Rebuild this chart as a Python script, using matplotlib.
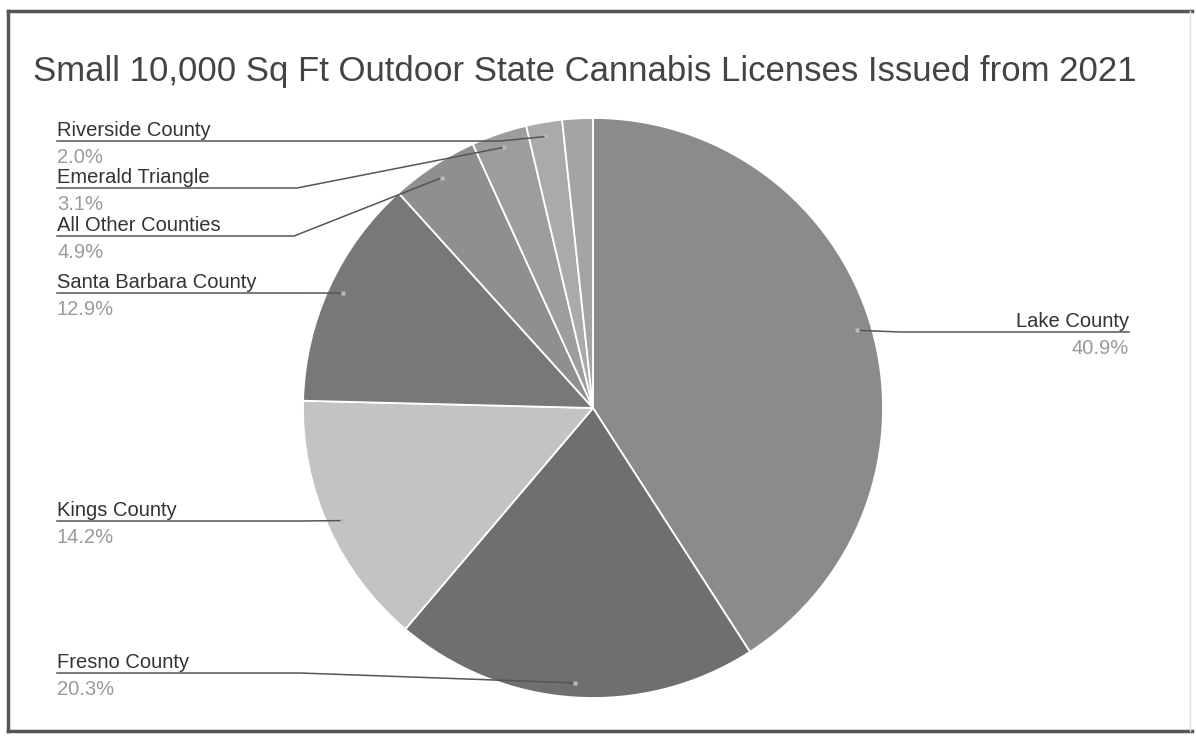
import numpy as np
import matplotlib
matplotlib.use("Agg")
import matplotlib.pyplot as plt

plt.rcParams['font.family'] = ['Liberation Sans', 'DejaVu Sans']

title = 'Small 10,000 Sq Ft Outdoor State Cannabis Licenses Issued from 2021'
labels = ['Lake County', 'Fresno County', 'Kings County', 'Santa Barbara County',
          'All Other Counties', 'Emerald Triangle', 'Riverside County', '']
values = [40.9, 20.3, 14.2, 12.9, 4.9, 3.1, 2.0, 1.7]
colors = ['#8b8b8b', '#6f6f6f', '#c3c3c3', '#787878',
          '#8f8f8f', '#9d9d9d', '#aaaaaa', '#a4a4a4']

# label layout in pixel coords (y measured from top)
W, H = 1196, 736
cx, cy, R = 593, 408, 290
line_y = [332, 673, 521, 293, 236, 188, 141, None]
knee_x = [900, 300, 300, 300, 294, 297, 500, None]

def Y(y):
    return H - y

fig = plt.figure(figsize=(W / 100, H / 100), dpi=100)
ax = fig.add_axes([0, 0, 1, 1])
wedges, _ = ax.pie(values, colors=colors, startangle=90, counterclock=False,
                   center=(cx, Y(cy)), radius=R,
                   wedgeprops=dict(edgecolor='white', linewidth=1.3))
ax.set_xlim(0, W)
ax.set_ylim(0, H)
ax.set_aspect('equal')
ax.axis('off')

for w, lab, val, ly, kx in zip(wedges, labels, values, line_y, knee_x):
    if not lab:
        continue
    mid = np.deg2rad((w.theta1 + w.theta2) / 2)
    dx = cx + 0.95 * R * np.cos(mid)
    dy = Y(cy) + 0.95 * R * np.sin(mid)
    if dx > cx:
        x0, ha = 1129, 'right'
    else:
        x0, ha = 57, 'left'
    ax.plot([x0, kx, dx], [Y(ly), Y(ly), dy], color='#555555', lw=1.1, zorder=5)
    ax.plot(dx, dy, 's', ms=3, color='#bbbbbb', mec='none', zorder=6)
    ax.text(x0, Y(ly - 5), lab, ha=ha, va='baseline', fontsize=14.5, color='#333333')
    ax.text(x0, Y(ly + 7), f'{val:.1f}%', ha=ha, va='top', fontsize=14.5, color='#9a9a9a')

ax.text(33, Y(81), title, ha='left', va='baseline', fontsize=25, color='#444444')

# scanned frame
ax.plot([8, 1192], [Y(11), Y(11)], color='#555555', lw=2.5, clip_on=False)
ax.plot([8, 1192], [Y(731), Y(731)], color='#555555', lw=2.5, clip_on=False)
ax.plot([8, 8], [Y(11), Y(731)], color='#555555', lw=2.5, clip_on=False)
ax.plot([1190, 1190], [Y(11), Y(731)], color='#e0e0e0', lw=1, clip_on=False)

fig.savefig('out.png', dpi=100)
